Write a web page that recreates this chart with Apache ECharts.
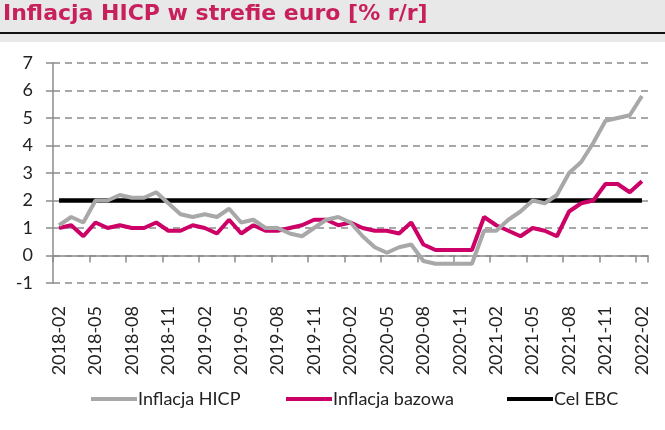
<!DOCTYPE html>
<html>
<head>
<meta charset="utf-8">
<script src="https://cdn.jsdelivr.net/npm/echarts@6/dist/echarts.min.js"></script>
<style>
html,body{margin:0;padding:0;background:#fff;}
#chart{width:665px;height:430px;}
</style>
</head>
<body>
<div id="chart"></div>
<script>
const titleText = 'Inflacja HICP w strefie euro [% r/r]';
const categories = [
  '2018-02','2018-03','2018-04','2018-05','2018-06','2018-07','2018-08','2018-09','2018-10','2018-11','2018-12',
  '2019-01','2019-02','2019-03','2019-04','2019-05','2019-06','2019-07','2019-08','2019-09','2019-10','2019-11','2019-12',
  '2020-01','2020-02','2020-03','2020-04','2020-05','2020-06','2020-07','2020-08','2020-09','2020-10','2020-11','2020-12',
  '2021-01','2021-02','2021-03','2021-04','2021-05','2021-06','2021-07','2021-08','2021-09','2021-10','2021-11','2021-12',
  '2022-01','2022-02'
];
const hicpName = 'Inflacja HICP';
const hicp = [
  1.1,1.4,1.2,2.0,2.0,2.2,2.1,2.1,2.3,1.9,1.5,
  1.4,1.5,1.4,1.7,1.2,1.3,1.0,1.0,0.8,0.7,1.0,1.3,
  1.4,1.2,0.7,0.3,0.1,0.3,0.4,-0.2,-0.3,-0.3,-0.3,-0.3,
  0.9,0.9,1.3,1.6,2.0,1.9,2.2,3.0,3.4,4.1,4.9,5.0,
  5.1,5.8
];
const coreName = 'Inflacja bazowa';
const core = [
  1.0,1.1,0.7,1.2,1.0,1.1,1.0,1.0,1.2,0.9,0.9,
  1.1,1.0,0.8,1.3,0.8,1.1,0.9,0.9,1.0,1.1,1.3,1.3,
  1.1,1.2,1.0,0.9,0.9,0.8,1.2,0.4,0.2,0.2,0.2,0.2,
  1.4,1.1,0.9,0.7,1.0,0.9,0.7,1.6,1.9,2.0,2.6,2.6,
  2.3,2.7
];
const targetName = 'Cel EBC';
const target = [
  2,2,2,2,2,2,2,2,2,2,2,
  2,2,2,2,2,2,2,2,2,2,2,2,
  2,2,2,2,2,2,2,2,2,2,2,2,
  2,2,2,2,2,2,2,2,2,2,2,2,
  2,2
];
const yMin = -1, yMax = 7, yStep = 1;

const FONT = 'Lato, "Open Sans", sans-serif';
const legendText = {fontFamily: FONT, fontSize: 18, color: '#222222', padding: [0, 0, 0, -4]};
function legendAt(left, name) {
  return {left: left, top: 385, itemWidth: 46, itemHeight: 4, icon: 'rect',
          textStyle: legendText, data: [name]};
}
const chart = echarts.init(document.getElementById('chart'), null, {renderer: 'canvas'});
chart.setOption({
  animation: false,
  backgroundColor: '#ffffff',
  graphic: [
    {type: 'rect', left: 0, top: 0, z: -10, shape: {width: 665, height: 42}, style: {fill: '#e8e8e8'}},
    {type: 'rect', left: 0, top: 32, z: -9, shape: {width: 665, height: 2}, style: {fill: '#111111'}},
    {type: 'text', left: 3, top: 3, z: 10, style: {text: titleText, fill: '#c8205c', font: 'bold 22px "DejaVu Sans", sans-serif'}}
  ],
  grid: {left: 53, right: 17, top: 63, bottom: 147, containLabel: false},
  legend: [legendAt(86, hicpName), legendAt(281, coreName), legendAt(502, targetName)],
  xAxis: {
    type: 'category',
    data: categories,
    boundaryGap: true,
    axisLine: {onZero: true, lineStyle: {color: '#8c8c8c', width: 1.5}},
    axisTick: {show: true, interval: 2, length: 7, lineStyle: {color: '#8c8c8c', width: 1.5}},
    axisLabel: {interval: 2, rotate: 90, margin: 23, fontFamily: FONT, fontSize: 18, color: '#222222'},
    splitLine: {show: false}
  },
  yAxis: {
    type: 'value',
    min: yMin, max: yMax, interval: yStep,
    axisLine: {show: true, lineStyle: {color: '#8c8c8c', width: 1.5}},
    axisTick: {show: true, length: 7, lineStyle: {color: '#8c8c8c', width: 1.5}},
    axisLabel: {margin: 20, fontFamily: FONT, fontSize: 18, color: '#222222'},
    splitLine: {show: true, lineStyle: {color: '#8c8c8c', width: 1.6, type: [7, 5]}}
  },
  series: [
    {name: targetName, type: 'line', data: target, symbol: 'none', z: 2,
     lineStyle: {color: '#000000', width: 4.5}, itemStyle: {color: '#000000'}},
    {name: coreName, type: 'line', data: core, symbol: 'none', z: 3,
     lineStyle: {color: '#cc0066', width: 4}, itemStyle: {color: '#cc0066'}},
    {name: hicpName, type: 'line', data: hicp, symbol: 'none', z: 4,
     lineStyle: {color: '#a8a8a8', width: 4}, itemStyle: {color: '#a8a8a8'}}
  ]
});
</script>
</body>
</html>
